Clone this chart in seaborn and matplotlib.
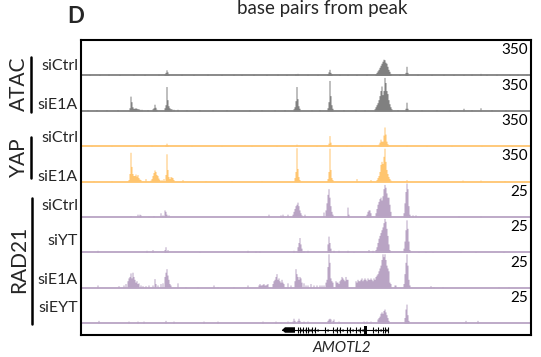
import numpy as np
import pandas as pd
import matplotlib
matplotlib.use("Agg")
import matplotlib.pyplot as plt
import seaborn as sns
from matplotlib.patches import Polygon, Rectangle

sns.set_theme(style="white")
plt.rcParams['font.family'] = ['Lato', 'DejaVu Sans']

# ---------------- data ----------------
title = "base pairs from peak"
panel = "D"
gene_name = "AMOTL2"
groups = ["ATAC", "YAP", "RAD21"]
samples = ["siCtrl", "siE1A", "siCtrl", "siE1A", "siCtrl", "siYT", "siE1A", "siEYT"]
track_group = [0, 0, 1, 1, 2, 2, 2, 2]
track_max = [350, 350, 350, 350, 25, 25, 25, 25]
group_colors = ["#808080", "#FFC56F", "#B9A4C4"]

# signal (position along region, value)
atac_siCtrl = [(8,12),(18,10),(27,14),(38,10),(52,12),(63,10),(77,14),(83,15),(84,30),(85,55),(86,35),(87,15),
               (100,12),(112,10),(126,14),(140,10),(152,12),(160,10),(172,12),(185,10),(196,14),(205,10),
               (214,15),(216,20),(226,12),(236,10),(246,15),(247,35),(248,60),(249,30),(250,15),(258,12),(266,10),
               (275,10),(285,12),(294,15),(295,30),(296,45),(297,60),(298,80),(299,100),(300,120),(301,140),
               (302,160),(303,155),(304,130),(305,120),(306,90),(307,60),(308,40),(309,20),(318,10),(324,30),
               (325,90),(326,30),(336,12),(350,10),(362,12),(372,10),(382,10),(390,14),(399,20),(405,10),
               (415,12),(428,10),(436,12),(445,10)]
atac_siE1A = [(6,10),(15,12),(25,10),(36,12),(48,30),(49,145),(50,90),(51,40),(52,25),(53,25),(54,30),(55,25),
              (56,20),(57,20),(58,15),(60,15),(66,12),(71,20),(72,30),(73,65),(74,35),(75,15),(83,30),(84,60),
              (85,240),(86,110),(87,50),(88,30),(89,20),(90,20),(92,15),(96,15),(105,10),(118,12),(131,10),
              (145,12),(168,10),(180,12),(193,10),(203,12),(212,20),(213,40),(214,100),(215,240),(216,120),
              (217,50),(218,25),(230,10),(238,12),(246,30),(247,90),(248,300),(249,150),(250,60),(251,25),
              (262,10),(274,12),(283,10),(293,20),(294,40),(295,60),(296,80),(297,110),(298,150),(299,200),
              (300,245),(301,160),(302,200),(303,330),(304,280),(305,200),(306,170),(307,110),(308,70),
              (309,40),(310,20),(316,10),(324,25),(325,85),(326,25),(340,10),(355,12),(368,10),(382,25),
              (390,10),(399,30),(410,10),(424,12),(438,10)]
yap_siCtrl = [(10,8),(30,8),(55,8),(70,10),(84,15),(85,30),(86,15),(110,8),(140,8),(170,8),(195,8),(215,20),
              (235,8),(247,30),(248,105),(249,40),(265,8),(280,8),(297,20),(298,40),(299,70),(300,50),
              (301,50),(302,110),(303,190),(304,120),(305,50),(306,25),(325,10),(345,8),(370,8),(400,8),(430,8)]
yap_siE1A = [(12,8),(30,8),(47,20),(48,80),(49,290),(50,150),(51,80),(52,60),(53,60),(54,75),(55,55),(56,70),
             (57,40),(58,25),(59,20),(64,30),(69,15),(70,30),(71,60),(72,90),(73,115),(74,100),(75,70),(76,60),
             (77,35),(78,20),(80,20),(82,30),(84,70),(85,275),(86,120),(87,50),(88,30),(89,50),(90,45),(91,40),
             (92,20),(101,20),(124,10),(150,8),(180,8),(213,40),(214,100),(215,335),(216,130),(217,50),
             (218,20),(246,30),(247,100),(248,330),(249,120),(250,40),(251,20),(275,30),(289,20),(295,20),
             (296,40),(297,60),(298,100),(299,170),(300,200),(301,180),(302,250),(303,330),(304,200),
             (305,120),(306,80),(307,50),(308,30),(309,15),(325,20),(381,15),(399,15),(423,10)]
rad_siCtrl = [(49,1),(56,2),(58,2),(59,1.5),(67,0.7),(72,1),(79,3),(81,1.5),(83,5),(84,4),(85,2),(87,1.5),
              (187,2),(199,1.5),(201,2),(206,2),(211,2),(212,4),(213,6),(214,8),(215,9),(216,10.5),(217,8),
              (218,5),(219,3),(220,1.5),(223,2),(242,3.5),(244,5),(245,10),(246,16),(247,20),(248,14),
              (249,8),(250,4),(251,2),(266,7),(267,2),(285,2),(286,4),(287,5),(288,5),(289,3),(294,3),
              (295,6),(296,9),(297,11),(298,13),(299,14),(300,12),(301,15),(302,20),(303,23),(304,21),
              (305,17),(306,14),(307,14),(308,9),(309,4),(322,3),(323,10),(324,18),(325,24),(326,20),
              (327,8),(328,2),(331,1.5),(334,1.5),(377,0.8),(399,0.8)]
rad_siYT = [(16,1.5),(65,1.5),(71,2),(83,2),(84,4),(86,2),(118,0.7),(166,1.5),(174,1),(178,1),(212,1.5),
            (216,4),(217,7),(218,10.5),(219,6),(220,3),(222,1),(226,1.5),(246,6),(247,11.5),(248,7),
            (249,3),(252,1.5),(257,1.5),(266,1.5),(272,0.7),(287,2),(291,1.5),(294,2),(295,4),(296,7),
            (297,10),(298,12),(299,14),(300,16),(301,18),(302,21),(303,24),(304,22),(305,17),(306,12),
            (307,6),(308,2),(322,3),(323,8),(324,16),(325,23),(326,17),(327,8),(328,2),(337,0.7),
            (344,0.7),(351,0.7),(379,0.7),(394,0.7),(422,0.7)]
rad_siE1A = [(16,2),(37,1.5),(42,2),(44,3),(46,5),(47,7),(48,8),(49,10.5),(50,7),(51,11),(52,8),(53,6),
             (54,4),(55,5),(56,3),(57,3.5),(59,2),(61,1.5),(64,1.5),(67,2),(71,2),(73,6.5),(74,3),(76,2),
             (79,3),(81,3.5),(83,8),(84,11),(85,13.5),(86,9),(87,6),(88,3),(89,2),(96,3.5),(104,0.7),
             (116,0.7),(132,2),(136,0.7),(152,0.7),(166,2),(177,2),(178,3),(179,2),(180,2),(181,2.5),(182,3),
             (183,2),(184,2),(185,2.5),(186,3),
             (191,3),(192,5),(193,6),(194,8),(195,10),(196,6),(197,7),(198,5),(199,4),(200,6),(201,4),
             (202,3),(206,3.5),(209,2),(213,5),(214,13.5),(215,10),(216,8),(217,6),(218,8),(219,7),
             (220,4),(222,3.5),(224,2),(226,2),(229,3),(232,2),(235,2),(238,2),(240,2),(242,2),(244,4),
             (245,6),(246,15),(247,24),(248,18),(249,7),(250,5),(251,4),(254,5),(255,4),(256,4),(257,3),
             (258,5),(259,6),(260,8),(261,7),(262,6),(263,5),(264,8),(265,6),(266,6),(274,5),(275,4),(276,6),
             (277,5),(278,5),(279,6),(280,7),(281,5),(282,6),(283,7),(284,6),(285,5),(286,7),(287,6),
             (288,6),(289,7),(290,6),(291,5),(292,7),(293,6),(294,8),(295,9),(296,10),(297,12),(298,14),
             (299,16),(300,20),(301,24),(302,22),(303,24),(304,20),(305,16),(306,14),(307,12),(308,4),
             (309,3),(313,2),(314,2),
             (322,3),(323,10),(324,18),(325,24),(326,16),(327,6),(328,2),(349,1.5),(352,0.7),(361,0.7),
             (417,0.7),(427,0.7)]
rad_siEYT = [(17,2),(47,1.5),(56,1.5),(62,1.5),(84,2),(92,1.5),(122,1.5),(136,1.5),(181,1.5),(194,1.5),
             (199,1),(206,1.5),(211,1.5),(212,3.5),(213,2),(216,2),(217,3.5),(218,2),(222,1.5),(226,1.5),
             (246,2),(247,3),(248,3.5),(249,3),(251,2),(252,3),(257,1.5),(276,0.7),(282,1.5),(285,1.5),
             (289,1.5),(296,3),(297,4),(298,5),(299,7),(300,8),(301,7),(302,9),(303,10),(304,8),(305,6),
             (306,4),(307,2),(323,4),(324,10),(325,13.5),(326,6),(327,2),(384,2),(396,2)]
tracks = [atac_siCtrl, atac_siE1A, yap_siCtrl, yap_siE1A, rad_siCtrl, rad_siYT, rad_siE1A, rad_siEYT]

# gene model (region coordinates)
gene_span = (201, 307)
utr_body = (201, 214)
cds_block = (283, 286)
exon_ticks = [217, 219, 222, 225, 227, 231, 234, 244, 252, 256, 259, 266, 269, 275, 279, 292, 297, 302, 304, 307]
region_len = 450

# ---------------- layout ----------------
W, H = 541, 357
fig = plt.figure(figsize=(W / 100, H / 100), dpi=100)

def fx(x): return x / W
def fy(y): return 1 - y / H

box_l, box_r, box_t, box_b = 81, 531, 40, 335
track_h = 35.4
sample_label_y = [66, 105, 138, 177, 206, 241, 280, 308]

for i, data in enumerate(tracks):
    top = box_t + i * track_h
    ax = fig.add_axes([fx(box_l), fy(top + track_h), fx(box_r) - fx(box_l), track_h / H])
    df = pd.DataFrame(data, columns=["pos", "val"])
    col = group_colors[track_group[i]]
    sns.histplot(data=df, x="pos", weights="val", binwidth=1, binrange=(0, region_len + 1),
                 element="step", fill=True, color=col, alpha=1, linewidth=0, ax=ax)
    ax.axhline(0, color=col, lw=1.3, clip_on=False)
    ax.set_xlim(0, region_len)
    ax.set_ylim(0, track_max[i])
    ax.set_axis_off()
    ax.text(0.993, 0.597, str(track_max[i]), transform=ax.transAxes, ha="right", va="baseline",
            fontsize=11, color="black")
    fig.text(fx(78), fy(sample_label_y[i]), samples[i], ha="right", va="center", fontsize=11.5)

# gene track
gax = fig.add_axes([fx(box_l), fy(335), fx(box_r) - fx(box_l), 10 / H])
gax.set_xlim(0, region_len)
gax.set_ylim(-1, 1)
gax.set_axis_off()
gax.plot([gene_span[0], gene_span[1]], [0, 0], color="black", lw=0.8)
gax.add_patch(Polygon([[utr_body[0], 0], [utr_body[0] + 3, 0.55], [utr_body[1], 0.55],
                       [utr_body[1], -0.55], [utr_body[0] + 3, -0.55]], closed=True, color="black", lw=0))
gax.add_patch(Rectangle((cds_block[0], -0.85), cds_block[1] - cds_block[0], 1.7, color="black", lw=0))
gax.vlines(exon_ticks, -0.6, 0.6, color="black", lw=0.8)
chev = [x + 1.5 for x in exon_ticks[:-1]]
gax.plot(chev, [0] * len(chev), ls="none", marker="3", ms=2.5, color="black", mew=0.6)
fig.text(fx(342), fy(347.5), gene_name, ha="center", va="center", fontsize=11, style="italic")

# frame
frame = fig.add_axes([fx(box_l), fy(box_b), fx(box_r) - fx(box_l), fy(box_t) - fy(box_b)])
frame.patch.set_alpha(0)
frame.set_xticks([]); frame.set_yticks([])
for s in frame.spines.values():
    s.set_visible(True); s.set_color("black"); s.set_linewidth(1.5)

# group labels and bars
group_y = [84, 157, 259]
bars = [(30.5, 57, 112), (30.5, 137, 178), (32, 198, 324)]
for g, yc, (bx, b0, b1) in zip(groups, group_y, bars):
    fig.text(fx(19), fy(yc), g, rotation=90, ha="center", va="center", fontsize=15)
    fig.add_artist(plt.Line2D([fx(bx), fx(bx)], [fy(b0), fy(b1)], color="black", lw=1.8))

fig.text(fx(322), fy(14), title, ha="center", va="baseline", fontsize=13.5)
fig.text(fx(67), fy(23), panel, ha="left", va="baseline", fontsize=16, fontweight="bold")

fig.savefig("out.png", dpi=100)
